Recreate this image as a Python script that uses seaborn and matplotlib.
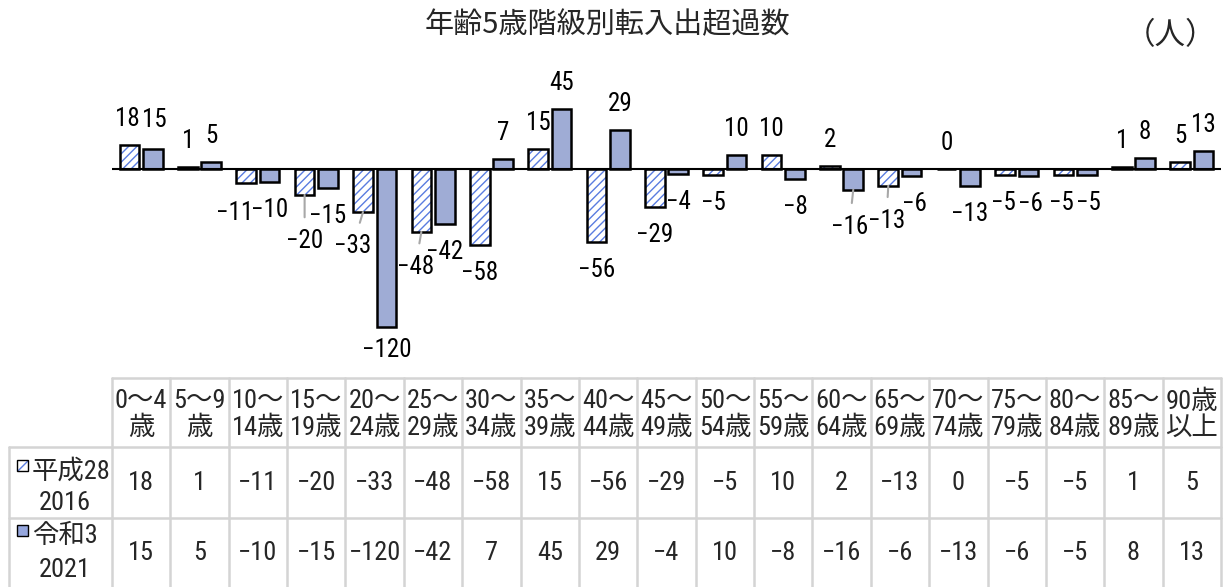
import numpy as np
import pandas as pd
import matplotlib
matplotlib.use("Agg")
import matplotlib.pyplot as plt
import matplotlib.colors as mcolors
from matplotlib.patches import Rectangle
import seaborn as sns

# data
ages = ["0～4\n歳", "5～9\n歳", "10～\n14歳", "15～\n19歳", "20～\n24歳",
        "25～\n29歳", "30～\n34歳", "35～\n39歳", "40～\n44歳", "45～\n49歳",
        "50～\n54歳", "55～\n59歳", "60～\n64歳", "65～\n69歳", "70～\n74歳",
        "75～\n79歳", "80～\n84歳", "85～\n89歳", "90歳\n以上"]
y2016 = [18, 1, -11, -20, -33, -48, -58, 15, -56, -29, -5, 10, 2, -13, 0, -5, -5, 1, 5]
y2021 = [15, 5, -10, -15, -120, -42, 7, 45, 29, -4, 10, -8, -16, -6, -13, -6, -5, 8, 13]
era = ["平成28", "令和3"]
years = ["2016", "2021"]
series = [e + "\n" + y for e, y in zip(era, years)]

title = "年齢5歳階級別転入出超過数"
unit = "（人）"

solid = "#96a7de"
hatch_blue = "#5a7ce0"
grid_gray = "#d4d4d4"

# label nudges in pixels (dx, dy, leader line) for crowded labels
nudge = {
    (0, 0): (-2, 0, False),
    (0, 2): (-12, -2, False),
    (0, 3): (0, -18, True),
    (0, 4): (-10, -6, True),
    (0, 5): (-6, -7, True),
    (0, 13): (-2, -7, True),
    (0, 15): (-2, 0, False),
    (0, 16): (-2, 0, False),
    (1, 0): (2, 3, False),
    (1, 4): (0, 5, False),
    (1, 12): (-4, -9, True),
    (1, 13): (3, 0, False),
    (1, 15): (2, 0, False),
    (1, 16): (2, 0, False),
}

df = pd.DataFrame({
    "age": ages * 2,
    "value": y2016 + y2021,
    "year": [series[0]] * len(ages) + [series[1]] * len(ages),
})

sns.set_theme(style="white")
plt.rcParams["font.family"] = ["Roboto Condensed", "Fira Sans Condensed", "Archivo Narrow",
                               "PT Sans Narrow", "Barlow Condensed", "Liberation Sans Narrow",
                               "Noto Sans CJK JP", "DejaVu Sans"]
plt.rcParams["hatch.linewidth"] = 1.0

W, H = 1224, 587
fig = plt.figure(figsize=(W / 100, H / 100), dpi=100)

left_px, right_px = 112, 1221
col_px = (right_px - left_px) / len(ages)
top_px, bot_px, base_px = 60, 370, 168.5
px_per_unit = 1.32

ax = fig.add_axes([left_px / W, 1 - bot_px / H, (right_px - left_px) / W, (bot_px - top_px) / H])
sns.barplot(data=df, x="age", y="value", hue="year", hue_order=series,
            palette=["white", solid], width=0.8, gap=0.16, errorbar=None,
            edgecolor="black", linewidth=1.8, legend=False, ax=ax)

for bar in ax.containers[0]:
    bar.set_hatch("////")
    if hasattr(bar, "set_hatchcolor"):
        bar.set_hatchcolor(hatch_blue)
    else:
        bar._hatch_color = mcolors.to_rgba(hatch_blue)

ax.set_xlim(-0.5, len(ages) - 0.5)
ax.set_ylim(-(bot_px - base_px) / px_per_unit, (base_px - top_px) / px_per_unit)
ax.axhline(0, color="black", lw=1.5, zorder=1)
ax.set_axis_off()

fs = 19
lfs = 18
for s, vals in enumerate([y2016, y2021]):
    for i, (bar, v) in enumerate(zip(ax.containers[s], vals)):
        xc = bar.get_x() + bar.get_width() / 2
        dx, dy, lead = nudge.get((s, i), (0, 0, False))
        base_dy = 26 if v >= 0 else -28
        txt = str(v).replace("-", "−")
        kw = {}
        if lead:
            kw["arrowprops"] = dict(arrowstyle="-", color="#a8a8a8", lw=1.5,
                                    shrinkA=6, shrinkB=0)
        ax.annotate(txt, xy=(xc, v), xytext=(dx, base_dy + dy),
                    textcoords="offset pixels", ha="center", va="center",
                    fontsize=lfs, color="black", annotation_clip=False, **kw)

# title and unit
fig.text(607 / W, 1 - 25 / H, title, fontsize=21, ha="center", va="center",
         family=["Noto Sans CJK JP"])
fig.text(1171 / W, 1 - 36 / H, unit, fontsize=22, ha="center", va="center",
         family=["Noto Sans CJK JP"])

# table
t_top, t_bot = 378, 589
rows = [0, 69, 140, 211]
tax = fig.add_axes([9 / W, 1 - t_bot / H, (right_px - 9) / W, (t_bot - t_top) / H])
lab_left = -0.5 - (left_px - 9) / col_px
tax.set_xlim(lab_left, len(ages) - 0.5)
tax.set_ylim(rows[-1], 0)
tax.set_axis_off()

lkw = dict(color=grid_gray, lw=1.8, clip_on=False)
tax.plot([-0.5, len(ages) - 0.5], [rows[0], rows[0]], **lkw)
for r in rows[1:]:
    tax.plot([lab_left, len(ages) - 0.5], [r, r], **lkw)
for k in range(len(ages) + 1):
    tax.plot([k - 0.5, k - 0.5], [rows[0], rows[-1]], **lkw)
tax.plot([lab_left, lab_left], [rows[1], rows[-1]], **lkw)

for i, a in enumerate(ages):
    tax.text(i, (rows[0] + rows[1]) / 2 + 2, a, ha="center", va="center",
             fontsize=fs, linespacing=1.1, multialignment="center")
    for s, vals in enumerate([y2016, y2021]):
        tax.text(i, (rows[s + 1] + rows[s + 2]) / 2, str(vals[i]).replace("-", "−"),
                 ha="center", va="center", fontsize=fs)

# row labels with legend squares
def px_x(p):
    return -0.5 - (left_px - p) / col_px

sq_w = 11 / col_px
for s in range(2):
    line1 = [93, 158][s]
    line2 = [125, 192][s]
    tax.text(px_x(32), line1, era[s], ha="left", va="center", fontsize=fs)
    tax.text(px_x(65), line2, years[s], ha="center", va="center", fontsize=fs)
    my = line1 - 6
    if s == 0:
        p = Rectangle((px_x(17), my - 5.5), sq_w, 11, facecolor="white", edgecolor="black",
                      lw=1.0, hatch="///", clip_on=False)
        p._hatch_color = mcolors.to_rgba(hatch_blue)
    else:
        p = Rectangle((px_x(17), my - 5.5), sq_w, 11, facecolor=solid, edgecolor="black",
                      lw=1.0, clip_on=False)
    tax.add_patch(p)

fig.savefig("out.png", dpi=100)
